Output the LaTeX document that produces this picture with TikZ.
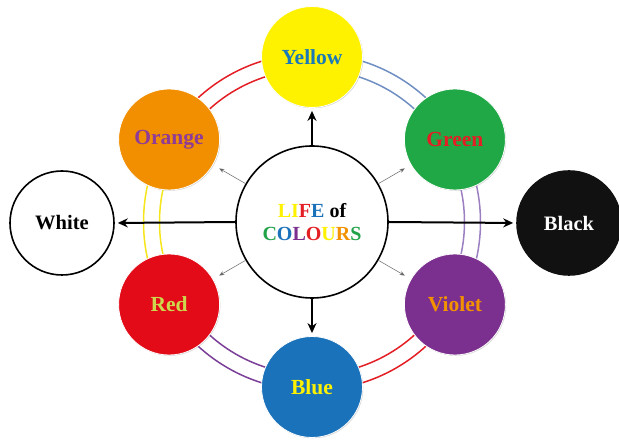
\documentclass[tikz,border=0pt]{standalone}
\usepackage{fontspec}
\setmainfont{Liberation Serif}
\usetikzlibrary{arrows.meta,shadows}
\definecolor{cYellow}{HTML}{FFF200}
\definecolor{cGreen}{HTML}{1FA845}
\definecolor{cViolet}{HTML}{7B2F8E}
\definecolor{cBlue}{HTML}{1A72BB}
\definecolor{cRed}{HTML}{E30B17}
\definecolor{cOrange}{HTML}{F18F00}
\definecolor{cBlack}{HTML}{111111}
\definecolor{tBlue}{HTML}{1A7AB8}
\definecolor{tRed}{HTML}{E31E24}
\definecolor{tPurple}{HTML}{8E3C97}
\definecolor{tLime}{HTML}{CDD84E}
\definecolor{tOrange}{HTML}{F39200}
\definecolor{aRed}{HTML}{E31E24}
\definecolor{aSteel}{HTML}{6F8FC2}
\definecolor{aLav}{HTML}{9B7FC0}
\definecolor{aPurple}{HTML}{7B3F98}
\definecolor{aYellow}{HTML}{F5E51A}
\definecolor{lGreen}{HTML}{22A34A}
\begin{document}
\begin{tikzpicture}[x=1pt,y=1pt,
  ball/.style={circle, minimum size=101pt, inner sep=0pt, draw=white, line width=0.8pt,
    font=\fontsize{21.5}{24}\selectfont\bfseries,
    drop shadow={shadow xshift=0.8pt, shadow yshift=-0.8pt, opacity=0.35}},
  outball/.style={circle, minimum size=104pt, inner sep=0pt, draw=black, line width=1.6pt,
    font=\fontsize{20.5}{24}\selectfont\bfseries},
  hub/.style={circle, minimum size=152pt, inner sep=0pt, draw=black, line width=1.6pt, fill=white,
    font=\fontsize{20}{24}\selectfont\bfseries, align=center},
  bigarrow/.style={-{Stealth[length=10pt,width=9pt]}, line width=2pt, black, shorten >=3pt},
  thinarrow/.style={-{Stealth[length=5pt,width=4pt]}, line width=0.5pt, gray!80!black, shorten >=7pt},
  ringarc/.style={line width=1.5pt}
]
\useasboundingbox (0,0) rectangle (619,441);
\coordinate (c) at (312,219);
% double arcs
\foreach \a/\b/\col in {90/150/aRed, 30/90/aSteel, -30/30/aLav, -90/-30/aRed, -150/-90/aPurple, 150/210/aYellow}{
  \draw[ringarc,\col] ([shift={(\a:152.5)}]c) arc[start angle=\a, end angle=\b, radius=152.5];
  \draw[ringarc,\col] ([shift={(\a:168.5)}]c) arc[start angle=\a, end angle=\b, radius=168.5];
}
\node[hub] (hub) at (c) {\textcolor{cYellow}{LI}\textcolor{tRed}{F}\textcolor{cBlue}{E} of\\[-1pt]\textcolor{lGreen}{C}\textcolor{cBlue}{O}\textcolor{cViolet}{L}\textcolor{tRed}{O}\textcolor{cYellow}{U}\textcolor{tOrange}{R}\textcolor{lGreen}{S}};
\node[ball, fill=cYellow, text=tBlue] (yellow) at ([shift={(90:165)}]c) {Yellow};
\node[ball, fill=cGreen, text=tRed] (green) at ([shift={(30:165)}]c) {Green};
\node[ball, fill=cViolet, text=tOrange] (violet) at ([shift={(-30:165)}]c) {Violet};
\node[ball, fill=cBlue, text=cYellow] (blue) at ([shift={(-90:165)}]c) {Blue};
\node[ball, fill=cRed, text=tLime] (red) at ([shift={(-150:165)}]c) {Red};
\node[ball, fill=cOrange, text=tPurple] (orange) at ([shift={(150:165)}]c) {Orange};
\node[outball, fill=white, text=black] (white) at (62,218) {White};
\node[outball, fill=cBlack, draw=cBlack, text=white] (black) at (569,218) {Black};
% arrows
\draw[bigarrow] (hub.north) -- (yellow.south);
\draw[bigarrow] (hub.south) -- (blue.north);
\draw[bigarrow] (hub.west) -- (white.east);
\draw[bigarrow] (hub.east) -- (black.west);
\draw[thinarrow] (hub.150) -- (orange);
\draw[thinarrow] (hub.30) -- (green);
\draw[thinarrow] (hub.-150) -- (red);
\draw[thinarrow] (hub.-30) -- (violet);
\end{tikzpicture}
\end{document}
